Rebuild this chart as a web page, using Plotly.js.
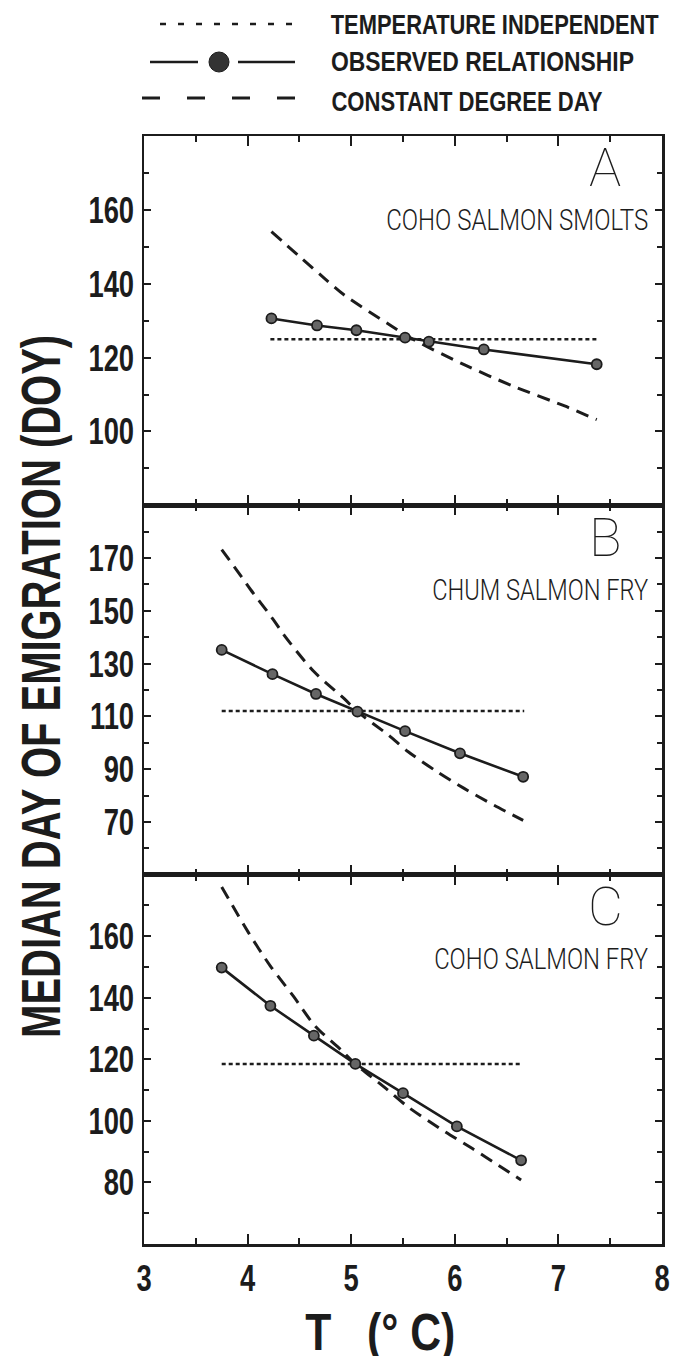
<!DOCTYPE html>
<html><head><meta charset="utf-8">
<script src="https://cdn.plot.ly/plotly-3.0.1.min.js"></script>
<style>body{margin:0;background:#fff}</style>
</head><body>
<div id="chart" style="width:677px;height:1356px"></div>
<script>
// ---------------- data ----------------
const xTickVals = [3, 4, 5, 6, 7, 8];

// Panel A: coho salmon smolts
const A_obsT   = [4.23, 4.67, 5.05, 5.52, 5.75, 6.28, 7.37];
const A_obsDOY = [130.6, 128.7, 127.4, 125.4, 124.3, 122.2, 118.2];
const A_indT   = [4.22, 7.38];
const A_indDOY = [125, 125];
const A_ddT    = [4.23, 4.72, 4.93, 5.37, 5.60, 6.09, 6.56, 7.06, 7.37];
const A_ddDOY  = [154.1, 142.0, 137.0, 128.9, 124.9, 118.1, 112.3, 106.9, 103.2];
const A_ticks  = [100, 120, 140, 160];

// Panel B: chum salmon fry
const B_obsT   = [3.75, 4.24, 4.66, 5.06, 5.52, 6.05, 6.66];
const B_obsDOY = [135.2, 126.0, 118.5, 111.8, 104.4, 96.0, 87.1];
const B_indT   = [3.75, 6.67];
const B_indDOY = [112, 112];
const B_ddT    = [3.75, 3.94, 4.03, 4.25, 4.35, 4.64, 4.93, 5.06, 5.36, 5.55, 5.83, 6.09, 6.38, 6.66];
const B_ddDOY  = [173.2, 163.0, 158.0, 146.6, 140.9, 127.0, 116.8, 111.8, 102.9, 96.6, 89.0, 82.7, 76.3, 70.6];
const B_ticks  = [70, 90, 110, 130, 150, 170];

// Panel C: coho salmon fry
const C_obsT   = [3.75, 4.22, 4.64, 5.04, 5.50, 6.02, 6.64];
const C_obsDOY = [149.8, 137.4, 127.7, 118.5, 109.0, 98.2, 87.2];
const C_indT   = [3.75, 6.65];
const C_indDOY = [118.5, 118.5];
const C_ddT    = [3.75, 4.01, 4.22, 4.44, 4.65, 4.91, 5.04, 5.34, 5.55, 5.91, 6.17, 6.42, 6.64];
const C_ddDOY  = [176.0, 161.1, 150.3, 140.6, 130.9, 122.8, 118.5, 110.4, 104.5, 96.4, 91.0, 85.6, 80.8];
const C_ticks  = [80, 100, 120, 140, 160];

const panelLetters = ['A', 'B', 'C'];
const panelNames = ['COHO SALMON SMOLTS', 'CHUM SALMON FRY', 'COHO SALMON FRY'];
const legendNames = ['TEMPERATURE INDEPENDENT', 'OBSERVED RELATIONSHIP', 'CONSTANT DEGREE DAY'];
const yTitle = 'MEDIAN DAY OF EMIGRATION (DOY)';
const xTitle = 'T   (\u00B0 C)';

// ---------------- style / layout helpers ----------------
const INK = '#1c1c1c';
const BOLD = 'Liberation Sans, Arial, sans-serif';
const THIN = 'Roboto, Liberation Sans, sans-serif';
const W = 677, H = 1356;
const M = {l: 144, r: 15, t: 136, b: 112};
const PW = W - M.l - M.r, PH = H - M.t - M.b;
const xp = px => (px - M.l) / PW;
const yp = py => (H - M.b - py) / PH;

// text widths (px) in the reference, used to condense the glyphs
const squeezeTo = {};
const legendLeft = 331;
const legendWidths = [328, 303, 271];
const legendRows = [25, 62, 101];
const nameRight = 650;
const nameWidths = [262, 216, 214];

function panelTraces(ax, obsT, obsY, indT, indY, ddT, ddY) {
  const xa = ax === 1 ? 'x' : 'x' + ax, ya = ax === 1 ? 'y' : 'y' + ax;
  return [
    {x: indT, y: indY, xaxis: xa, yaxis: ya, mode: 'lines', type: 'scatter',
     line: {color: INK, width: 2.5, dash: '4px,3px'}, hoverinfo: 'skip'},
    {x: ddT, y: ddY, xaxis: xa, yaxis: ya, mode: 'lines', type: 'scatter',
     line: {color: INK, width: 3, dash: '13px,8px', shape: 'spline', smoothing: 0.8}, hoverinfo: 'skip'},
    {x: obsT, y: obsY, xaxis: xa, yaxis: ya, mode: 'lines+markers', type: 'scatter',
     line: {color: INK, width: 2.6},
     marker: {symbol: 'circle', size: 10, color: '#666', line: {color: INK, width: 1.8}}, hoverinfo: 'skip'}
  ];
}

const data = [
  ...panelTraces(3, A_obsT, A_obsDOY, A_indT, A_indDOY, A_ddT, A_ddDOY),
  ...panelTraces(2, B_obsT, B_obsDOY, B_indT, B_indDOY, B_ddT, B_ddDOY),
  ...panelTraces(1, C_obsT, C_obsDOY, C_indT, C_indDOY, C_ddT, C_ddDOY)
];

function xAxis(anchor, labels) {
  return {
    anchor: anchor, domain: [0, 1], range: [3, 8], tickmode: 'array', tickvals: xTickVals,
    showticklabels: labels, ticks: 'inside', ticklen: 10, tickwidth: 2, tickcolor: INK,
    minor: {tickmode: 'linear', tick0: 3, dtick: 0.5, ticks: 'inside', ticklen: 6, tickwidth: 2, tickcolor: INK, showgrid: false},
    showline: true, linecolor: INK, linewidth: 2.5, mirror: 'ticks',
    showgrid: false, zeroline: false, ticklabelstandoff: 0,
    tickfont: {family: BOLD, size: 37, color: INK, weight: 'bold'}
  };
}
function yAxis(anchor, dom, range, vals) {
  return {
    anchor: anchor, domain: dom, range: range, tickmode: 'array', tickvals: vals,
    ticks: 'inside', ticklen: 7, tickwidth: 2, tickcolor: INK,
    minor: {tickmode: 'linear', tick0: 0, dtick: 10, ticks: 'inside', ticklen: 5, tickwidth: 2, tickcolor: INK, showgrid: false},
    showline: true, linecolor: INK, linewidth: 2.5, mirror: 'ticks',
    showgrid: false, zeroline: false, ticklabelstandoff: 0,
    tickfont: {family: BOLD, size: 37, color: INK, weight: 'bold'}
  };
}

const annotations = [];
const panelTops = [136, 136 + PH / 3, 136 + 2 * PH / 3];
panelTops.forEach((top, i) => {
  annotations.push({xref: 'paper', yref: 'paper', x: xp(605), y: yp(top + 32), text: panelLetters[i],
    showarrow: false, xanchor: 'center', yanchor: 'middle',
    font: {family: THIN, size: 54, color: INK, weight: 100}});
  annotations.push({xref: 'paper', yref: 'paper', x: xp(nameRight), y: yp(top + 84), text: panelNames[i],
    showarrow: false, xanchor: 'right', align: 'right', yanchor: 'middle',
    font: {family: THIN, size: 30, color: INK, weight: 300}});
  squeezeTo[panelNames[i]] = nameWidths[i];
});
legendNames.forEach((t, i) => {
  annotations.push({xref: 'paper', yref: 'paper', x: xp(legendLeft + legendWidths[i] / 2), y: yp(legendRows[i]), text: t,
    showarrow: false, xanchor: 'center', yanchor: 'middle',
    font: {family: BOLD, size: 28, color: INK, weight: 'bold'}});
  squeezeTo[t] = legendWidths[i];
});
annotations.push({xref: 'paper', yref: 'paper', x: xp(40), y: yp(687), text: yTitle, textangle: -90,
  showarrow: false, xanchor: 'center', yanchor: 'middle',
  font: {family: BOLD, size: 56, color: INK, weight: 'bold'}});
squeezeTo[yTitle] = 703;
annotations.push({xref: 'paper', yref: 'paper', x: xp(380), y: yp(1332), text: xTitle,
  showarrow: false, xanchor: 'center', yanchor: 'middle',
  font: {family: BOLD, size: 52, color: INK, weight: 'bold'}});
squeezeTo[xTitle] = 150;

const shapes = [
  {type: 'line', xref: 'paper', yref: 'paper', x0: xp(160), x1: xp(297), y0: yp(24), y1: yp(24),
   line: {color: INK, width: 2.5, dash: '6px,12px'}},
  {type: 'line', xref: 'paper', yref: 'paper', x0: xp(150), x1: xp(198), y0: yp(62), y1: yp(62),
   line: {color: INK, width: 2.5}},
  {type: 'line', xref: 'paper', yref: 'paper', x0: xp(238), x1: xp(295), y0: yp(62), y1: yp(62),
   line: {color: INK, width: 2.5}},
  {type: 'circle', xref: 'paper', yref: 'paper', x0: xp(209), x1: xp(229), y0: yp(72), y1: yp(52),
   fillcolor: '#333', line: {color: INK, width: 1}},
  {type: 'line', xref: 'paper', yref: 'paper', x0: xp(142), x1: xp(296), y0: yp(98), y1: yp(98),
   line: {color: INK, width: 3, dash: '18px,27px'}}
];

const layout = {
  width: W, height: H, margin: M, showlegend: false,
  paper_bgcolor: '#fff', plot_bgcolor: '#fff',
  xaxis: xAxis('y', true),
  xaxis2: xAxis('y2', false),
  xaxis3: xAxis('y3', false),
  yaxis: yAxis('x', [0, 1 / 3], [60, 180], C_ticks),
  yaxis2: yAxis('x2', [1 / 3, 2 / 3], [50, 190], B_ticks),
  yaxis3: yAxis('x3', [2 / 3, 1], [80, 180], A_ticks),
  annotations: annotations, shapes: shapes
};

function condense(el, len) {
  el.setAttribute('textLength', String(len));
  el.setAttribute('lengthAdjust', 'spacingAndGlyphs');
}

Plotly.newPlot('chart', data, layout, {displayModeBar: false, staticPlot: true}).then(() => {
  document.querySelectorAll('text.annotation-text').forEach(el => {
    const t = el.textContent;
    if (squeezeTo[t] !== undefined) condense(el, squeezeTo[t]);
  });
  document.querySelectorAll('.xaxislayer-above text, .yaxislayer-above text').forEach(el => {
    condense(el, el.getComputedTextLength() * 0.74);
  });
});
</script>
</body></html>
